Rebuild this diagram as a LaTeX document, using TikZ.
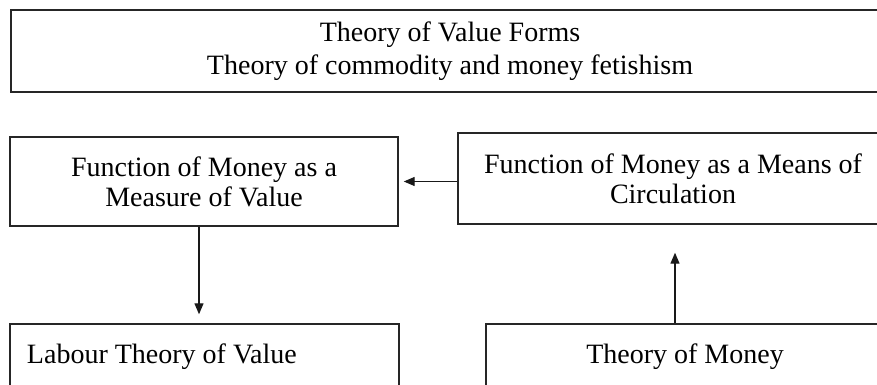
\documentclass[tikz,border=0pt]{standalone}
\usepackage{fontspec}
\setmainfont{Liberation Serif}
\usetikzlibrary{arrows.meta}
\tikzset{
  box/.style={draw=black!85, line width=1.4pt, rectangle, inner sep=0pt, align=center, font=\fontsize{28}{30}\selectfont},
  arr/.style={black!90, line width=1.3pt, -{Triangle[length=11pt,width=9pt]}}
}
\begin{document}
\begin{tikzpicture}[x=1pt,y=-1pt]
  \useasboundingbox (0,0) rectangle (877,384);
  \clip (0,0) rectangle (877,384);
  %teoria delle forme
  \node[box, minimum width=878pt, minimum height=82pt, font=\fontsize{28}{33}\selectfont] (forms) at (450,51) {Theory of Value Forms\\Theory of commodity and money fetishism};
  %funzioni del denaro
  \node[box, minimum width=388pt, minimum height=89pt] (measure) at (204,181.5) {Function of Money as a\\Measure of Value};
  \node[box, minimum width=430pt, minimum height=91pt] (circulation) at (673,178.5) {Function of Money as a Means of\\Circulation};
  %teorie in basso
  \node[box, minimum width=389pt, minimum height=89pt] (labour) at (204.5,368.5) {\makebox[355pt][l]{Labour Theory of Value}\\\mbox{}};
  \node[box, minimum width=398pt, minimum height=89pt] (money) at (685,368.5) {Theory of Money\\\mbox{}};
  %frecce
  \draw[arr, shorten >=5pt] (measure.east -| circulation.west) -- (measure.east);
  \draw[arr, shorten >=9pt] ([xshift=-5pt]measure.south) -- ([xshift=-5pt]measure.south |- labour.north);
  \draw[arr, shorten >=28pt] ([xshift=-10pt]money.north) -- ([xshift=-10pt]money.north |- circulation.south);
\end{tikzpicture}
\end{document}
